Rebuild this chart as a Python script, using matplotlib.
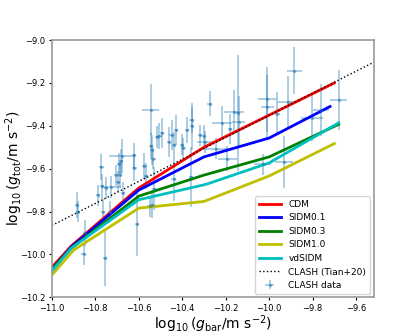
import numpy as np
import matplotlib
matplotlib.use("Agg")
import matplotlib.pyplot as plt

# model curves
x_cdm = [-11.0, -10.91, -10.6, -10.3, -10.0, -9.7]
y_cdm = [-10.06, -9.96, -9.69, -9.50, -9.35, -9.20]
x_s01 = [-11.0, -10.91, -10.6, -10.3, -10.0, -9.72]
y_s01 = [-10.07, -9.965, -9.70, -9.545, -9.457, -9.31]
x_s03 = [-11.0, -10.91, -10.6, -10.3, -10.0, -9.68]
y_s03 = [-10.07, -9.97, -9.728, -9.63, -9.545, -9.393]
x_s10 = [-11.0, -10.9, -10.6, -10.3, -10.0, -9.7]
y_s10 = [-10.096, -9.98, -9.784, -9.753, -9.634, -9.483]
x_vd = [-11.0, -10.91, -10.6, -10.29, -10.0, -9.68]
y_vd = [-10.078, -9.97, -9.745, -9.673, -9.573, -9.386]

# Tian+20 relation
x_tian = [-11.0, -9.52]
y_tian = [-9.865, -9.104]

# CLASH data
gbar = [-10.885, -10.880, -10.854, -10.846, -10.788, -10.772, -10.770, -10.765,
        -10.757, -10.750, -10.734, -10.728, -10.703, -10.697, -10.692, -10.686,
        -10.682, -10.677, -10.672, -10.623, -10.620, -10.608, -10.574, -10.566,
        -10.550, -10.546, -10.543, -10.538, -10.533, -10.528, -10.515, -10.505,
        -10.492, -10.460, -10.449, -10.438, -10.430, -10.400, -10.395, -10.377,
        -10.357, -10.354, -10.360, -10.318, -10.300, -10.295, -10.274, -10.246,
        -10.218, -10.192, -10.180, -10.162, -10.143, -10.140, -10.010, -10.008,
        -10.030, -9.962, -9.915, -9.885, -9.931, -9.803, -9.762, -9.680,
        -10.440, -10.540]
gtot = [-9.771, -9.800, -10.000, -9.900, -9.725, -9.592, -9.683, -9.800,
        -10.016, -9.690, -9.800, -9.685, -9.631, -9.660, -9.577, -9.630,
        -9.566, -9.541, -9.713, -9.538, -9.597, -9.857, -9.589, -9.635,
        -9.776, -9.324, -9.494, -9.514, -9.553, -9.694, -9.452, -9.449,
        -9.433, -9.475, -9.444, -9.488, -9.421, -9.488, -9.505, -9.421,
        -9.374, -9.402, -9.640, -9.444, -9.447, -9.475, -9.296, -9.506,
        -9.386, -9.553, -9.413, -9.335, -9.340, -9.382, -9.277, -9.312,
        -9.580, -9.343, -9.288, -9.143, -9.569, -9.362, -9.327, -9.280,
        -9.650, -9.770]
gtot_err = [0.06, 0.05, 0.05, 0.06, 0.05, 0.06, 0.06, 0.06,
            0.13, 0.05, 0.05, 0.05, 0.05, 0.05, 0.05, 0.06,
            0.06, 0.08, 0.05, 0.06, 0.06, 0.15, 0.06, 0.06,
            0.05, 0.12, 0.06, 0.07, 0.05, 0.10, 0.05, 0.06,
            0.07, 0.07, 0.07, 0.06, 0.07, 0.05, 0.05, 0.06,
            0.06, 0.11, 0.14, 0.05, 0.05, 0.05, 0.06, 0.05,
            0.08, 0.06, 0.07, 0.10, 0.27, 0.12, 0.15, 0.15,
            0.05, 0.10, 0.12, 0.11, 0.12, 0.11, 0.12, 0.14,
            0.10, 0.06]
gbar_err = [0.01, 0.01, 0.01, 0.01, 0.01, 0.01, 0.01, 0.01,
            0.01, 0.01, 0.01, 0.046, 0.01, 0.01, 0.01, 0.01,
            0.01, 0.06, 0.01, 0.01, 0.01, 0.01, 0.01, 0.01,
            0.01, 0.04, 0.01, 0.01, 0.01, 0.01, 0.01, 0.01,
            0.01, 0.01, 0.01, 0.01, 0.01, 0.01, 0.01, 0.01,
            0.01, 0.01, 0.01, 0.01, 0.01, 0.035, 0.01, 0.055,
            0.045, 0.045, 0.01, 0.045, 0.01, 0.03, 0.04, 0.03,
            0.04, 0.01, 0.045, 0.035, 0.04, 0.05, 0.035, 0.04,
            0.01, 0.01]

fig = plt.figure(figsize=(4.15, 3.34), dpi=100)
ax = fig.add_subplot(111)

ax.errorbar(gbar, gtot, yerr=gtot_err, xerr=gbar_err, fmt='.', color='C0',
            ms=3, elinewidth=1.3, alpha=0.4, label='CLASH data')
ax.plot(x_cdm, y_cdm, 'r-', lw=2, label='CDM')
ax.plot(x_s01, y_s01, 'b-', lw=2, label='SIDM0.1')
ax.plot(x_s03, y_s03, 'g-', lw=2, label='SIDM0.3')
ax.plot(x_s10, y_s10, 'y-', lw=2, label='SIDM1.0')
ax.plot(x_vd, y_vd, 'c-', lw=2, label='vdSIDM')
ax.plot(x_tian, y_tian, 'k:', lw=1, label='CLASH (Tian+20)')

ax.set_xlim(-11.0, -9.52)
ax.set_ylim(-10.2, -9.0)
ax.set_xticks(np.arange(-11.0, -9.59, 0.2))
ax.set_yticks(np.arange(-10.2, -8.99, 0.2))
ax.tick_params(labelsize=6, length=2.5, pad=2)
for s in ax.spines.values():
    s.set_color('0.6')
    s.set_linewidth(1.2)

ax.set_xlabel(r'$\log_{10}(g_{\rm bar}/{\rm m\ s^{-2}})$', fontsize=10, labelpad=1)
ax.set_ylabel(r'$\log_{10}(g_{\rm tot}/{\rm m\ s^{-2}})$', fontsize=10)
ax.yaxis.set_label_coords(-0.085, 0.5)

ax.legend(loc='lower right', fontsize=6.5, handlelength=2.5, borderaxespad=0.4)

fig.savefig('out.png', dpi=100)
